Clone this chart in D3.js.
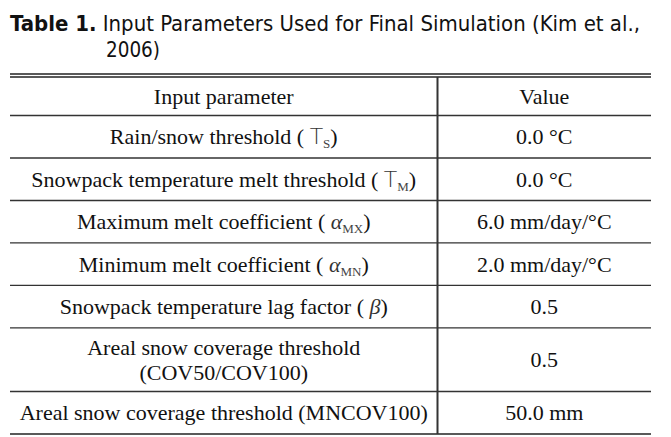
<!DOCTYPE html>
<html>
<head>
<meta charset="utf-8">
<script src="https://cdn.jsdelivr.net/npm/d3@7"></script>
<style>
  body { margin: 0; background: #fff; }
  svg { display: block; }
</style>
</head>
<body>
<div id="table"></div>
<script>
const width = 671;
const height = 437;

// table content
const titleBold = "Table 1.";
const titleLines = ["Input Parameters Used for Final Simulation (Kim et al.,", "2006)"];
const headers = ["Input parameter", "Value"];
const paramNames = [
    ["Rain/snow threshold"],
    ["Snowpack temperature melt threshold"],
    ["Maximum melt coefficient"],
    ["Minimum melt coefficient"],
    ["Snowpack temperature lag factor"],
    ["Areal snow coverage threshold", "(COV50/COV100)"],
    ["Areal snow coverage threshold (MNCOV100)"]
];
// symbol: [main glyph, subscript, italic?]
const paramSymbols = [
    ["T", "S", false],
    ["T", "M", false],
    ["α", "MX", true],
    ["α", "MN", true],
    ["β", "", true],
    null,
    null
];
const paramValues = ["0.0 °C", "0.0 °C", "6.0 mm/day/°C", "2.0 mm/day/°C", "0.5", "0.5", "50.0 mm"];
const rowUnits = [1, 1, 1, 1, 1, 1.5, 1];

const svg = d3.select("#table")
    .append("svg")
    .attr("width", width)
    .attr("height", height);

const left = 10, right = 651, divX = 437.5;
const topRule = 74, headTop = 77, headBottom = 115.5, bottom = 434;

// title
const title = svg.append("g")
    .style("font-family", "'DejaVu Sans Condensed', 'Open Sans', sans-serif")
    .style("font-size", "21px").attr("fill", "#111");
const t1 = title.append("text").attr("x", 10).attr("y", 31)
    .attr("textLength", 630).attr("lengthAdjust", "spacingAndGlyphs");
t1.append("tspan").style("font-weight", "bold").text(titleBold);
t1.append("tspan").text(" " + titleLines[0]);
title.append("text").attr("x", 106).attr("y", 57)
    .attr("textLength", 54).attr("lengthAdjust", "spacingAndGlyphs")
    .text(titleLines[1]);

// row positions
const cum = [0];
rowUnits.forEach(u => cum.push(cum[cum.length - 1] + u));
const yScale = d3.scaleLinear()
    .domain([0, cum[cum.length - 1]])
    .range([headBottom, bottom]);
const colX = d3.scaleOrdinal().domain([0, 1]).range([(left + divX) / 2, (divX + right) / 2]);

// rules
[topRule, headTop, bottom].forEach(y => {
    svg.append("line").attr("x1", left).attr("x2", right).attr("y1", y).attr("y2", y)
        .attr("stroke", "#222").attr("stroke-width", 1.6);
});
svg.append("line").attr("x1", divX).attr("x2", divX).attr("y1", headTop).attr("y2", bottom)
    .attr("stroke", "#333").attr("stroke-width", 2);

svg.selectAll(".hline")
    .data(cum.slice(0, -1))
    .enter()
    .append("line")
    .attr("class", "hline")
    .attr("x1", left).attr("x2", right)
    .attr("y1", d => yScale(d)).attr("y2", d => yScale(d))
    .attr("stroke", "#333").attr("stroke-width", 1.4);

const body = svg.append("g")
    .style("font-family", "'Liberation Serif', 'Times New Roman', serif")
    .style("font-size", "22px")
    .attr("fill", "#111")
    .attr("text-anchor", "middle");

// header
body.selectAll(".head")
    .data(headers)
    .enter()
    .append("text")
    .attr("class", "head")
    .attr("x", (d, i) => colX(i))
    .attr("y", (headTop + headBottom) / 2 + 7.5)
    .text(d => d);

// rows
paramNames.forEach((lines, i) => {
    const y0 = yScale(cum[i]), y1 = yScale(cum[i + 1]);
    const mid = (y0 + y1) / 2;
    const lineGap = 25;
    lines.forEach((ln, j) => {
        const ty = mid + 7.5 + (j - (lines.length - 1) / 2) * lineGap;
        const txt = body.append("text").attr("x", colX(0)).attr("y", ty);
        txt.append("tspan").text(ln);
        const sym = paramSymbols[i];
        if (sym && j === lines.length - 1) {
            txt.append("tspan").text(" ( ");
            txt.append("tspan")
                .style("font-style", sym[2] ? "italic" : "normal")
                .style("font-family", sym[2] ? "'Liberation Serif', serif" : "'DejaVu Sans', sans-serif")
                .style("font-weight", "200")
                .attr("fill", "#333")
                .text(sym[0]);
            if (sym[1]) {
                txt.append("tspan")
                    .style("font-size", "13px")
                    .attr("fill", "#444")
                    .attr("dy", 4)
                    .text(sym[1]);
                txt.append("tspan").attr("dy", -4).text(")");
            } else {
                txt.append("tspan").text(")");
            }
        }
    });
    body.append("text")
        .attr("x", colX(1))
        .attr("y", mid + 7.5)
        .text(paramValues[i]);
});
</script>
</body>
</html>
